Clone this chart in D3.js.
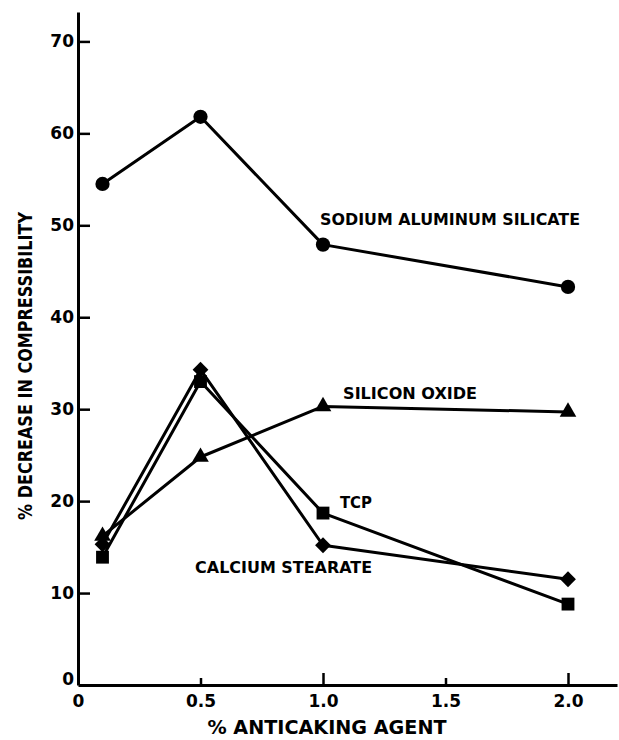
<!DOCTYPE html>
<html>
<head>
<meta charset="utf-8">
<script src="https://cdn.jsdelivr.net/npm/d3@7"></script>
<style>
  body { margin: 0; background: #fff; }
  text { font-family: "DejaVu Sans", sans-serif; font-weight: bold; fill: #000; }
</style>
</head>
<body>
<svg id="svg"></svg>
<script>
const svgWidth = 619;
const svgHeight = 740;

// data
const agentLevels = [0.1, 0.5, 1.0, 2.0];
const sodiumAluminumSilicate = [54.5, 61.8, 47.9, 43.3];
const siliconOxide = [16.2, 24.8, 30.3, 29.7];
const tcp = [13.9, 33.0, 18.7, 8.8];
const calciumStearate = [15.3, 34.3, 15.2, 11.5];

const xTicks = [0, 0.5, 1.0, 1.5, 2.0];
const xTickLabels = ["0", "0.5", "1.0", "1.5", "2.0"];
const yTicks = [0, 10, 20, 30, 40, 50, 60, 70];

const series = [
  { name: "SODIUM ALUMINUM SILICATE", values: sodiumAluminumSilicate, symbol: "circle" },
  { name: "SILICON OXIDE", values: siliconOxide, symbol: "triangle" },
  { name: "TCP", values: tcp, symbol: "square" },
  { name: "CALCIUM STEARATE", values: calciumStearate, symbol: "diamond" }
];

// where each label sits, in data units
const labels = [
  { text: "SODIUM ALUMINUM SILICATE", x: 0.988, y: 50.0, len: 260 },
  { text: "SILICON OXIDE", x: 1.082, y: 31.1, len: 134 },
  { text: "TCP", x: 1.069, y: 19.2, len: 32 },
  { text: "CALCIUM STEARATE", x: 0.478, y: 12.2, len: 177 }
];

let svg = d3.select("#svg").attr("width", svgWidth).attr("height", svgHeight);

const xScale = d3.scaleLinear().domain([0, 2.2]).range([78, 617]);
const yScale = d3.scaleLinear().domain([0, 73.2]).range([685, 12]);

// axes
const yAxis = svg.append("g")
  .attr("transform", "translate(" + xScale(0) + ",0)")
  .call(d3.axisLeft(yScale).tickValues(yTicks).tickSize(-12).tickSizeOuter(0).tickPadding(4).tickFormat(d3.format("d")));

const xAxis = svg.append("g")
  .attr("transform", "translate(0," + yScale(0) + ")")
  .call(d3.axisBottom(xScale).tickValues(xTicks).tickSize(-12).tickSizeOuter(0).tickPadding(10)
    .tickFormat((d, i) => xTickLabels[i]));

[yAxis, xAxis].forEach(a => {
  a.select(".domain").attr("stroke", "#000").attr("stroke-width", 3);
  a.selectAll(".tick line").attr("stroke", "#000").attr("stroke-width", 2.5);
  a.selectAll(".tick text").style("font-size", "17px").style("font-family", "DejaVu Sans").style("font-weight", "bold");
});
// half-unit ticks are shorter
xAxis.selectAll(".tick line").filter(d => d === 0.5 || d === 1.5).attr("y2", -7);
xAxis.selectAll(".tick").filter(d => d === 0).select("line").remove();
yAxis.selectAll(".tick").filter(d => d === 0).select("line").remove();
yAxis.selectAll(".tick").filter(d => d === 0).select("text").attr("dy", "-0.05em");

// axis titles
svg.append("text")
  .attr("x", 327)
  .attr("y", 734)
  .attr("text-anchor", "middle")
  .attr("textLength", 239)
  .attr("lengthAdjust", "spacingAndGlyphs")
  .style("font-size", "19px")
  .text("% ANTICAKING AGENT");

svg.append("text")
  .attr("transform", "translate(32,366) rotate(-90)")
  .attr("text-anchor", "middle")
  .attr("textLength", 308)
  .attr("lengthAdjust", "spacingAndGlyphs")
  .style("font-size", "19px")
  .text("% DECREASE IN COMPRESSIBILITY");

// lines
const line = d3.line()
  .x((d, i) => xScale(agentLevels[i]))
  .y(d => yScale(d));

svg.append("g")
  .selectAll("path")
  .data(series)
  .join("path")
  .attr("d", d => line(d.values))
  .attr("fill", "none")
  .attr("stroke", "#000")
  .attr("stroke-width", 3)
  .attr("stroke-linejoin", "round");

// markers
const symbolPath = {
  circle: d3.symbol(d3.symbolCircle, 160)(),
  triangle: d3.symbol(d3.symbolTriangle, 120)(),
  square: d3.symbol(d3.symbolSquare, 165)(),
  diamond: d3.symbol(d3.symbolSquare, 125)()
};

series.forEach(s => {
  svg.append("g")
    .selectAll("path")
    .data(s.values)
    .join("path")
    .attr("d", symbolPath[s.symbol])
    .attr("transform", (d, i) => "translate(" + xScale(agentLevels[i]) + "," + yScale(d) + ")" + (s.symbol === "diamond" ? " rotate(45)" : ""))
    .attr("fill", "#000");
});

// series labels
svg.append("g")
  .selectAll("text")
  .data(labels)
  .join("text")
  .attr("x", d => xScale(d.x))
  .attr("y", d => yScale(d.y))
  .attr("textLength", d => d.len)
  .attr("lengthAdjust", "spacingAndGlyphs")
  .style("font-size", "15px")
  .text(d => d.text);
</script>
</body>
</html>
